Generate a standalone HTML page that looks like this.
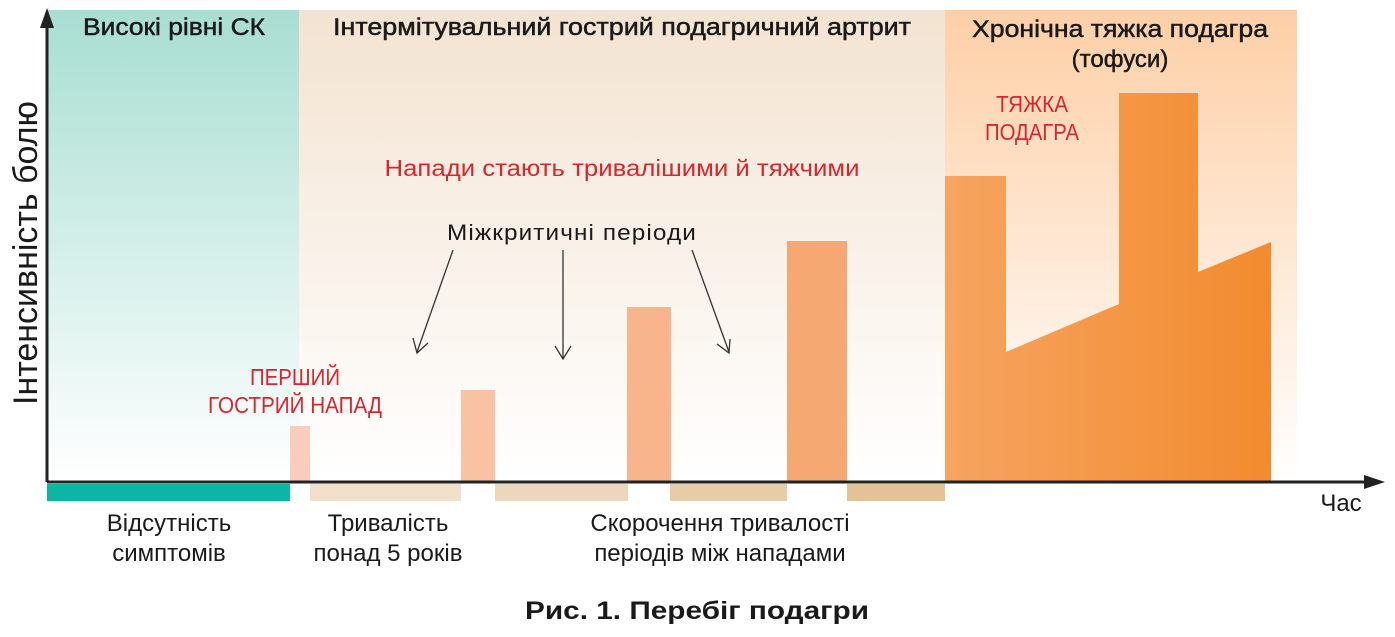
<!DOCTYPE html>
<html><head><meta charset="utf-8"><style>
body{margin:0;background:#fff;}
svg text{font-family:"Liberation Sans","DejaVu Sans",sans-serif;}
</style></head><body>
<svg width="1395" height="632" viewBox="0 0 1395 632" xmlns="http://www.w3.org/2000/svg">
<defs>
<linearGradient id="gt" x1="0" y1="0" x2="0" y2="1"><stop offset="0" stop-color="#a8ded2"/><stop offset="1" stop-color="#ffffff"/></linearGradient>
<linearGradient id="gb" x1="0" y1="0" x2="0" y2="1"><stop offset="0" stop-color="#f3e3d1"/><stop offset="1" stop-color="#ffffff"/></linearGradient>
<linearGradient id="go" x1="0" y1="0" x2="0" y2="1"><stop offset="0" stop-color="#fdcfa6"/><stop offset="1" stop-color="#ffffff"/></linearGradient>
<linearGradient id="gs" x1="0" y1="0" x2="1" y2="0"><stop offset="0" stop-color="#f6a460"/><stop offset="1" stop-color="#f28b2e"/></linearGradient>
</defs>
<rect x="47" y="10" width="252" height="472" fill="url(#gt)"/>
<rect x="299" y="10" width="646" height="472" fill="url(#gb)"/>
<rect x="945" y="10" width="352" height="472" fill="url(#go)"/>
<rect x="290" y="426" width="20" height="56" fill="#f8cdbb"/>
<rect x="461" y="390" width="34" height="92" fill="#f9c3a3"/>
<rect x="627" y="307" width="44" height="175" fill="#f8b48a"/>
<rect x="787" y="241" width="60" height="241" fill="#f6a873"/>
<polygon points="945,482 945,176 1006,176 1006,352 1119,304 1119,93 1198,93 1198,272 1271,242 1271,482" fill="url(#gs)"/>
<rect x="47" y="484" width="243" height="17" fill="#0cb6a4"/>
<rect x="310" y="484" width="151" height="17" fill="#f1e0cb"/>
<rect x="495" y="484" width="133" height="17" fill="#ecd7bc"/>
<rect x="670" y="484" width="117" height="17" fill="#e8cca9"/>
<rect x="847" y="484" width="98" height="17" fill="#e2c296"/>
<line x1="47" y1="482" x2="1370" y2="482" stroke="#222" stroke-width="3"/>
<polygon points="1385,482 1364,475 1364,489" fill="#222"/>
<line x1="47" y1="482" x2="47" y2="22" stroke="#222" stroke-width="3"/>
<polygon points="47,8 40,28 54,28" fill="#222"/>
<g stroke="#333" stroke-width="1.3" fill="none">
<line x1="453" y1="250" x2="417" y2="352"/><polyline points="413,338 417,353 428,343"/>
<line x1="563" y1="250" x2="563" y2="358"/><polyline points="555,346 563,359 571,346"/>
<line x1="692" y1="250" x2="729" y2="352"/><polyline points="717,344 729,353 730,339"/>
</g>
<g font-size="24" fill="#1a1a1a" stroke="#1a1a1a" stroke-width="0.5">
<text x="174" y="35" text-anchor="middle" textLength="182" lengthAdjust="spacingAndGlyphs">Високі рівні СК</text>
<text x="622" y="35" text-anchor="middle" textLength="578" lengthAdjust="spacingAndGlyphs">Інтермітувальний гострий подагричний артрит</text>
<text x="1120" y="37" text-anchor="middle" textLength="296" lengthAdjust="spacingAndGlyphs">Хронічна тяжка подагра</text>
<text x="1120" y="67" text-anchor="middle">(тофуси)</text>
</g>
<g font-size="24" fill="#1a1a1a">
<text x="572" y="240" text-anchor="middle" font-size="22" letter-spacing="1" textLength="250" lengthAdjust="spacingAndGlyphs">Міжкритичні періоди</text>
<text x="1341" y="511" text-anchor="middle">Час</text>
<text x="169" y="531" text-anchor="middle">Відсутність</text>
<text x="169" y="561" text-anchor="middle">симптомів</text>
<text x="388" y="531" text-anchor="middle">Тривалість</text>
<text x="388" y="561" text-anchor="middle">понад 5 років</text>
<text x="720" y="531" text-anchor="middle">Скорочення тривалості</text>
<text x="720" y="561" text-anchor="middle">періодів між нападами</text>
</g>
<text transform="translate(37,253) rotate(-90)" text-anchor="middle" font-size="34" fill="#1a1a1a" textLength="304" lengthAdjust="spacingAndGlyphs">Інтенсивність болю</text>
<g fill="#d8262e" font-size="23">
<text x="622" y="176" text-anchor="middle" textLength="475" lengthAdjust="spacingAndGlyphs">Напади стають тривалішими й тяжчими</text>
<text x="295" y="385" text-anchor="middle" textLength="90" lengthAdjust="spacingAndGlyphs">ПЕРШИЙ</text>
<text x="295" y="413" text-anchor="middle" textLength="174" lengthAdjust="spacingAndGlyphs">ГОСТРИЙ НАПАД</text>
<text x="1032" y="112" text-anchor="middle" textLength="72" lengthAdjust="spacingAndGlyphs">ТЯЖКА</text>
<text x="1032" y="140" text-anchor="middle" textLength="94" lengthAdjust="spacingAndGlyphs">ПОДАГРА</text>
</g>
<text x="697" y="619" text-anchor="middle" font-size="25" font-weight="bold" fill="#1a1a1a" textLength="344" lengthAdjust="spacingAndGlyphs">Рис. 1. Перебіг подагри</text>
</svg>
</body></html>
